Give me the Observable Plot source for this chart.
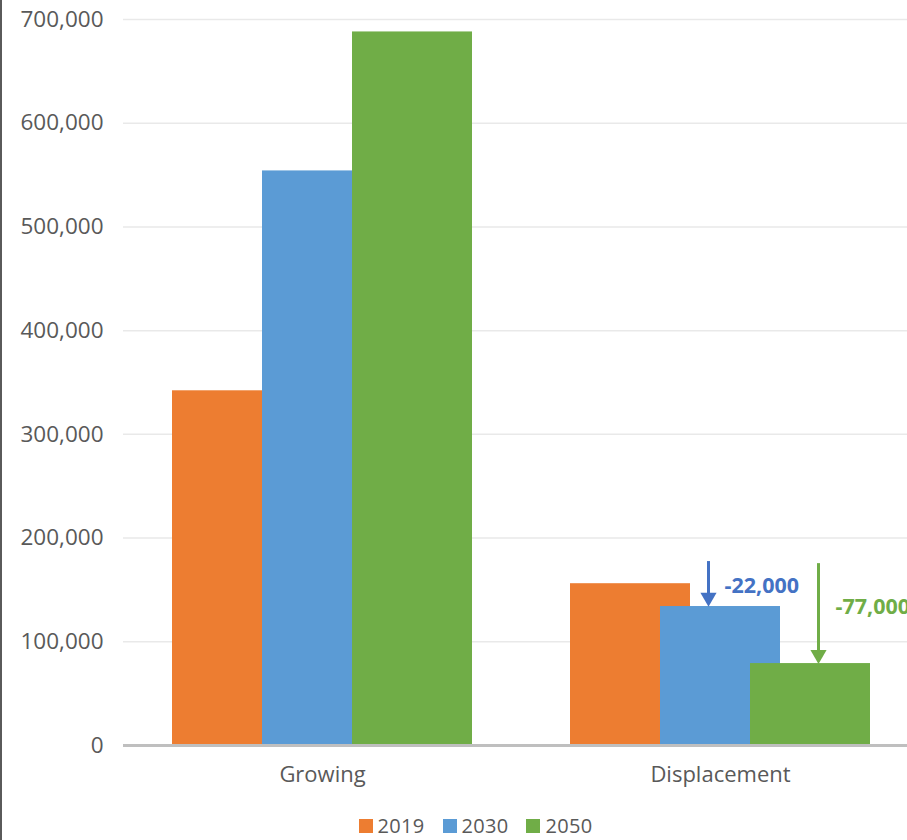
<!DOCTYPE html>
<html><head><meta charset="utf-8">
<script src="https://cdn.jsdelivr.net/npm/d3@7"></script>
<script src="https://cdn.jsdelivr.net/npm/@observablehq/plot@0.6"></script>
<style>
body{margin:0;background:#fff;}
#wrap{width:907px;height:840px;overflow:hidden;position:relative;background:#fff;}
#border{position:absolute;left:0;top:0;width:2px;height:840px;background:#5a5a5a;}
#legend{position:absolute;left:22px;top:815px;width:907px;height:22px;line-height:22px;display:flex;justify-content:center;align-items:center;font-family:"Open Sans",sans-serif;font-size:20px;letter-spacing:0.3px;color:#595959;}
#legend span.item{display:inline-flex;align-items:center;margin:0 9px;line-height:22px;}
#legend span.sw{display:inline-block;width:14px;height:14px;margin-right:5px;}
</style></head><body><div id="wrap"><div id="border"></div><div id="legend"></div></div>
<script>
const categories = ["Growing", "Displacement"];
const years = ["2019", "2030", "2050"];
const colors = ["#ED7D31", "#5B9BD5", "#70AD47"];
const growing = [342000, 554000, 688000];
const displacement = [156000, 134000, 79000];
const yTicks = [0, 100000, 200000, 300000, 400000, 500000, 600000, 700000];
const changeLabels = ["-22,000", "-77,000"];
const changeYears = ["2030", "2050"];
const changeFrom = [173500, 171500];
const changeTo = [134000, 79000];
const changeLabelY = [153300, 133100];
const changeColors = ["#4472C4", "#70AD47"];

const rows = categories.flatMap((c, i) =>
  years.map((y, j) => ({category: c, year: y, value: (i === 0 ? growing : displacement)[j]})));
const notes = changeLabels.map((label, i) => ({
  category: "Displacement", year: changeYears[i], from: changeFrom[i], to: changeTo[i],
  labelY: changeLabelY[i], label, color: changeColors[i]
}));

function arrowMarks(n, dxArrow, dxLabel) {
  return [
    Plot.ruleX([n], {fx: "category", x: "year", y1: "from", y2: "to", dx: dxArrow, dy: -4, stroke: n.color, strokeWidth: 3}),
    Plot.dot([n], {fx: "category", x: "year", y: "to", dx: dxArrow, dy: -9, symbol: "triangle", rotate: 180, r: 6, fill: n.color, stroke: "none"}),
    Plot.text([n], {fx: "category", x: "year", y: "labelY", text: "label", dx: dxLabel, textAnchor: "start", fill: n.color, fontWeight: "bold", fontSize: 21.5})
  ];
}

const chart = Plot.plot({
  width: 920, height: 800,
  marginLeft: 123, marginRight: 1, marginTop: 19, marginBottom: 55,
  style: {fontFamily: "'Open Sans', sans-serif", fontSize: "22px", color: "#595959", background: "white", maxWidth: "none"},
  fx: {domain: categories, padding: 0, label: null},
  x: {domain: years, paddingInner: 0, paddingOuter: 0.7, axis: null},
  y: {domain: [0, 700000], label: null},
  color: {domain: years, range: colors},
  marks: [
    Plot.gridY(yTicks, {stroke: "#e9e9e9", strokeOpacity: 1, strokeWidth: 1.5}),
    Plot.axisY(yTicks, {tickSize: 0, tickPadding: 20, tickFormat: d3.format(","), label: null, fontSize: 22.5}),
    Plot.axisFx({anchor: "bottom", tickSize: 0, tickPadding: 21, label: null, fontSize: 22}),
    Plot.barY(rows, {fx: "category", x: "year", y: "value", fill: "year", insetLeft: -15, insetRight: -15}),
    Plot.ruleY([0], {stroke: "#bfbfbf", strokeWidth: 3}),
    ...arrowMarks(notes[0], -12, 4),
    ...arrowMarks(notes[1], 8, 25)
  ]
});
document.getElementById("wrap").insertBefore(chart, document.getElementById("border"));
chart.style.position = "absolute"; chart.style.left = "0"; chart.style.top = "0"; chart.style.maxWidth = "none";

const legend = d3.select("#legend");
years.forEach((y, i) => {
  const item = legend.append("span").attr("class", "item");
  item.append("span").attr("class", "sw").style("background", colors[i]);
  item.append("span").text(y);
});
</script></body></html>
